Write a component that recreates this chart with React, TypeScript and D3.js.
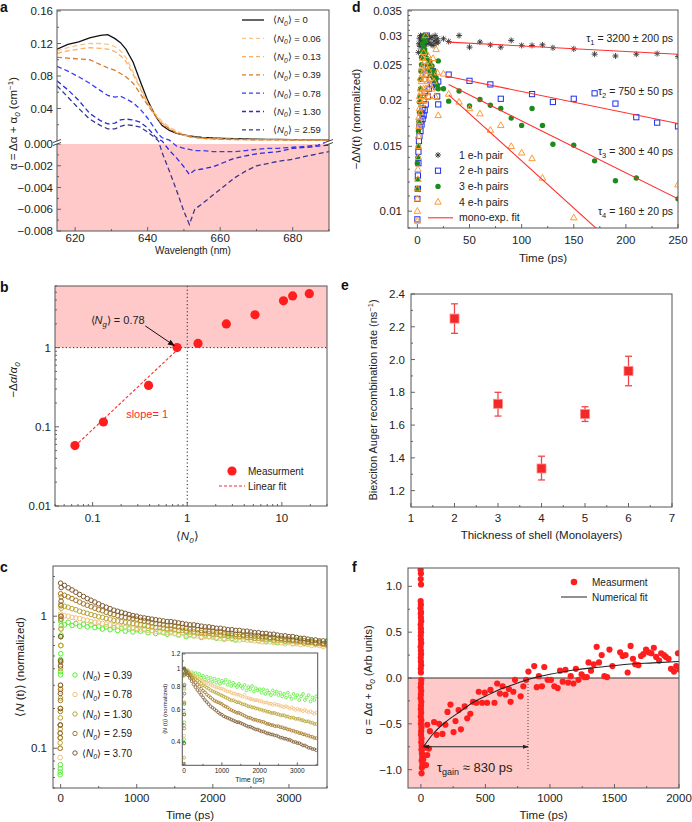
import React from "react";
import * as d3 from "d3";

const FONT = "'Liberation Sans', Arial, Helvetica, sans-serif";
const AX = "#555";
const PINK = "#ffc9c9";
const RED = "#ff1e1e";

// ---------------- Panel a ----------------
const A_WL = [615, 618, 621, 624, 627, 629, 631, 632.5, 634, 636, 638, 640, 642, 643, 644, 646, 648, 650, 651.5, 653, 655, 658, 661, 664, 667, 670, 673, 676, 680, 684, 687, 690];
const A_N0 = ["0", "0.06", "0.13", "0.39", "0.78", "1.30", "2.59"];
const A_V0 = [0.113, 0.119, 0.122, 0.127, 0.13, 0.131, 0.126, 0.121, 0.113, 0.097, 0.073, 0.05, 0.032, 0.025, 0.019, 0.013, 0.0095, 0.0075, 0.0063, 0.0055, 0.0045, 0.0037, 0.0032, 0.0028, 0.0025, 0.0023, 0.0021, 0.0019, 0.0017, 0.0015, 0.0013, 0.0012];
const A_V006 = [0.111, 0.115, 0.118, 0.12, 0.12, 0.119, 0.116, 0.111, 0.103, 0.085, 0.066, 0.047, 0.034, 0.029, 0.024, 0.017, 0.012, 0.008, 0.006, 0.0048, 0.0038, 0.003, 0.0025, 0.0022, 0.002, 0.0018, 0.0016, 0.0015, 0.0013, 0.0012, 0.0011, 0.001];
const A_V013 = [0.108, 0.111, 0.113, 0.115, 0.114, 0.113, 0.11, 0.105, 0.098, 0.082, 0.064, 0.046, 0.032, 0.027, 0.022, 0.015, 0.01, 0.007, 0.005, 0.004, 0.003, 0.0025, 0.002, 0.0018, 0.0016, 0.0015, 0.0014, 0.0013, 0.0012, 0.0011, 0.001, 0.001];
const A_V039 = [0.103, 0.102, 0.101, 0.1, 0.094, 0.09, 0.087, 0.083, 0.079, 0.071, 0.058, 0.044, 0.032, 0.025, 0.021, 0.015, 0.01, 0.007, 0.0055, 0.0045, 0.0035, 0.0025, 0.002, 0.0018, 0.0016, 0.0015, 0.0014, 0.0013, 0.0012, 0.0011, 0.001, 0.001];
const A_V078 = [0.092, 0.086, 0.079, 0.071, 0.062, 0.056, 0.054, 0.055, 0.052, 0.047, 0.039, 0.028, 0.015, 0.008, 0.004, 0.001, -0.0002, -0.0004, -0.0005, -0.0006, -0.0006, -0.0007, -0.0007, -0.0007, -0.0006, -0.0005, -0.0004, -0.0004, -0.0003, -0.0002, -0.0001, 0.0];
const A_V130 = [0.074, 0.063, 0.05, 0.034, 0.025, 0.021, 0.022, 0.026, 0.027, 0.026, 0.023, 0.016, 0.006, 0.002, 0.0, -0.0006, -0.0013, -0.0021, -0.0028, -0.0024, -0.0023, -0.0021, -0.0017, -0.0013, -0.0011, -0.0009, -0.0008, -0.0007, -0.0004, -0.0003, -0.0002, -0.0001];
const A_V259 = [0.068, 0.054, 0.04, 0.027, 0.019, 0.015, 0.015, 0.018, 0.02, 0.019, 0.017, 0.011, 0.004, 0.0, -0.0008, -0.0025, -0.0043, -0.0062, -0.0074, -0.006, -0.0055, -0.0047, -0.0039, -0.0031, -0.0025, -0.002, -0.0018, -0.0016, -0.0014, -0.0011, -0.0009, -0.0007];
const A_COLORS = ["#111111", "#fcc48a", "#f7b063", "#d77a2c", "#3a3af5", "#2b2bd6", "#37378f"];

// ---------------- Panel b ----------------
const B_N = [0.065, 0.13, 0.39, 0.78, 1.3, 2.59, 5.2, 10.4, 13, 19.5];
const B_R = [0.058, 0.115, 0.333, 1.0, 1.13, 1.99, 2.6, 3.9, 4.5, 4.8];
const B_FIT_N = [0.065, 0.77];
const B_FIT_R = [0.057, 0.92];

// ---------------- Panel c ----------------
const C_LABELS = ["0.39", "0.78", "1.30", "2.59", "3.70"];
const C_COLORS = ["#55ee2e", "#f3c27f", "#b9a533", "#a67a26", "#7d5c33"];
const C_PEAK = [0.92, 1.04, 1.22, 1.48, 1.78];
const C_V039 = [0.92, 0.86, 0.9, 0.85, 0.88, 0.84, 0.87, 0.83, 0.86, 0.82, 0.84, 0.8, 0.83, 0.79, 0.82, 0.78, 0.81, 0.77, 0.8, 0.76, 0.79, 0.77, 0.8, 0.75, 0.78, 0.74, 0.77, 0.75, 0.73, 0.76, 0.74, 0.72, 0.75, 0.7, 0.73, 0.71, 0.74, 0.69, 0.72, 0.7, 0.71, 0.68, 0.71, 0.67, 0.7, 0.68, 0.66, 0.7, 0.67, 0.69, 0.66, 0.68, 0.65, 0.67, 0.64, 0.68, 0.65, 0.63, 0.67, 0.64, 0.66, 0.62, 0.65, 0.67, 0.62, 0.64, 0.66, 0.61, 0.64, 0.62, 0.65];
const C_V078 = [1.04, 1.01, 1.0, 0.98, 0.97, 0.96, 0.94, 0.93, 0.91, 0.9, 0.89, 0.88, 0.87, 0.86, 0.85, 0.84, 0.83, 0.82, 0.82, 0.81, 0.81, 0.8, 0.79, 0.78, 0.78, 0.77, 0.76, 0.76, 0.75, 0.75, 0.74, 0.73, 0.75, 0.72, 0.72, 0.71, 0.71, 0.7, 0.7, 0.7, 0.69, 0.69, 0.68, 0.68, 0.68, 0.67, 0.67, 0.66, 0.67, 0.66, 0.66, 0.65, 0.65, 0.64, 0.65, 0.64, 0.63, 0.64, 0.63, 0.62, 0.63, 0.62, 0.62, 0.61, 0.62, 0.61, 0.6, 0.61, 0.6, 0.59, 0.6];
const C_V130 = [1.22, 1.19, 1.17, 1.14, 1.12, 1.09, 1.07, 1.05, 1.03, 1.01, 0.99, 0.98, 0.96, 0.95, 0.93, 0.92, 0.91, 0.9, 0.89, 0.88, 0.87, 0.86, 0.85, 0.84, 0.83, 0.82, 0.82, 0.81, 0.8, 0.8, 0.79, 0.78, 0.78, 0.77, 0.76, 0.76, 0.75, 0.75, 0.74, 0.74, 0.73, 0.73, 0.72, 0.72, 0.71, 0.71, 0.7, 0.7, 0.7, 0.69, 0.69, 0.68, 0.68, 0.68, 0.67, 0.67, 0.66, 0.66, 0.66, 0.65, 0.65, 0.65, 0.64, 0.64, 0.63, 0.63, 0.63, 0.62, 0.62, 0.61, 0.61];
const C_V259 = [1.48, 1.44, 1.4, 1.36, 1.32, 1.28, 1.24, 1.21, 1.18, 1.15, 1.12, 1.1, 1.07, 1.05, 1.03, 1.01, 0.99, 0.98, 0.97, 0.96, 0.95, 0.93, 0.92, 0.91, 0.89, 0.88, 0.87, 0.86, 0.85, 0.85, 0.84, 0.83, 0.82, 0.81, 0.8, 0.8, 0.79, 0.78, 0.78, 0.77, 0.77, 0.76, 0.76, 0.75, 0.74, 0.74, 0.73, 0.73, 0.72, 0.72, 0.72, 0.71, 0.71, 0.7, 0.7, 0.69, 0.69, 0.68, 0.68, 0.67, 0.67, 0.66, 0.66, 0.65, 0.65, 0.64, 0.64, 0.63, 0.63, 0.62, 0.62];
const C_V370 = [1.78, 1.71, 1.64, 1.58, 1.52, 1.46, 1.41, 1.36, 1.32, 1.28, 1.24, 1.2, 1.17, 1.14, 1.11, 1.09, 1.07, 1.05, 1.03, 1.01, 1.0, 0.98, 0.97, 0.96, 0.95, 0.94, 0.93, 0.92, 0.91, 0.91, 0.9, 0.89, 0.88, 0.87, 0.86, 0.86, 0.85, 0.84, 0.83, 0.83, 0.82, 0.81, 0.81, 0.8, 0.79, 0.79, 0.78, 0.78, 0.77, 0.77, 0.76, 0.75, 0.75, 0.74, 0.74, 0.73, 0.73, 0.72, 0.71, 0.71, 0.7, 0.7, 0.69, 0.68, 0.68, 0.67, 0.66, 0.66, 0.65, 0.65, 0.64];
const C_T = d3.range(0, 3501, 50);
const C_RISE_T = [-6, -5, -4, -3, -2, -1, 0, 2, 4, 6, 8];
const C_RISE_039 = [0.063, 0.066, 0.07, 0.075, 0.36, 0.38, 0.47, 0.52, 0.6, 0.72, 0.85];
const C_RISE_078 = [0.085, 0.1, 0.13, 0.2, 0.27, 0.28, 0.3, 0.45, 0.6, 0.8, 0.95];
const C_RISE_130 = [0.11, 0.12, 0.14, 0.17, 0.2, 0.24, 0.4, 0.6, 0.8, 1.0, 1.15];
const C_RISE_259 = [0.1, 0.12, 0.15, 0.19, 0.23, 0.28, 0.45, 0.7, 0.95, 1.2, 1.4];
const C_RISE_370 = [0.13, 0.15, 0.2, 0.26, 0.3, 0.42, 0.46, 0.7, 1.0, 1.3, 1.65];

// ---------------- Panel d ----------------
const D_LABELS = ["1 e-h pair", "2 e-h pairs", "3 e-h pairs", "4 e-h pairs"];
const D_BLACK_T = [1, 1.5, 2, 2.5, 3, 3.5, 4, 4.5, 5, 5.5, 6, 6.5, 7, 7.5, 8, 8.5, 9, 9.5, 10, 11, 12, 13, 14, 15, 16, 17, 18, 19, 20, 25, 30, 40, 50, 60, 70, 80, 90, 100, 110, 120, 130, 150, 170, 190, 210, 230, 250];
const D_BLACK_V = [0.027, 0.0285, 0.0295, 0.028, 0.03, 0.029, 0.0285, 0.0298, 0.0292, 0.028, 0.03, 0.0288, 0.0295, 0.0283, 0.0298, 0.029, 0.0286, 0.0299, 0.0293, 0.0287, 0.0296, 0.0284, 0.0297, 0.0282, 0.029, 0.03, 0.0286, 0.0294, 0.0288, 0.0294, 0.0289, 0.03, 0.0279, 0.0288, 0.0283, 0.0279, 0.0291, 0.0282, 0.0282, 0.0283, 0.0278, 0.0276, 0.0267, 0.0264, 0.0267, 0.0268, 0.0263];
const D_BLUE_T = [0, 0, 0, 0.5, 0.5, 1, 1, 1.5, 2, 2, 3, 3, 4, 4, 5, 5, 6, 6, 7, 7, 8, 8, 9, 10, 10, 11, 12, 13, 14, 15, 16, 17, 18, 19, 20, 20, 30, 50, 70, 80, 110, 130, 150, 170, 190, 210, 230, 250];
const D_BLUE_V = [0.0088, 0.0095, 0.0108, 0.0115, 0.0125, 0.0135, 0.0145, 0.0155, 0.016, 0.017, 0.0165, 0.0175, 0.0172, 0.0185, 0.0178, 0.019, 0.0182, 0.02, 0.0188, 0.021, 0.0195, 0.0235, 0.03, 0.0205, 0.0245, 0.0215, 0.0228, 0.0235, 0.022, 0.024, 0.0232, 0.0225, 0.0218, 0.0205, 0.0195, 0.0225, 0.0235, 0.0226, 0.0221, 0.0202, 0.0208, 0.0198, 0.0202, 0.0209, 0.0196, 0.018, 0.0174, 0.017];
const D_GREEN_T = [0, 0, 0, 0.5, 1, 1, 1.5, 2, 2, 2.5, 3, 3, 3.5, 4, 4, 5, 5, 6, 6, 7, 7, 8, 8, 9, 10, 11, 12, 13, 14, 15, 16, 17, 18, 19, 20, 20, 25, 30, 40, 50, 60, 70, 80, 90, 100, 110, 120, 130, 150, 170, 190, 210, 250];
const D_GREEN_V = [0.0115, 0.0122, 0.0135, 0.014, 0.015, 0.0165, 0.0175, 0.0185, 0.0198, 0.0205, 0.0215, 0.0228, 0.024, 0.025, 0.0262, 0.0272, 0.0285, 0.028, 0.0295, 0.0275, 0.03, 0.0268, 0.029, 0.026, 0.025, 0.0242, 0.0255, 0.0236, 0.0248, 0.0232, 0.024, 0.0225, 0.023, 0.022, 0.0215, 0.0256, 0.0215, 0.0199, 0.0212, 0.0193, 0.0201, 0.0194, 0.019, 0.0179, 0.0171, 0.019, 0.0171, 0.0152, 0.0151, 0.0137, 0.0121, 0.0123, 0.0108];
const D_ORANGE_T = [0, 0, 0, 0, 0, 0.5, 0.5, 1, 1, 1, 1.5, 1.5, 2, 2, 2, 2.5, 3, 3, 3, 3.5, 4, 4, 4, 5, 5, 5, 6, 6, 6, 7, 7, 7, 8, 8, 8, 9, 9, 10, 10, 11, 11, 12, 12, 13, 14, 15, 16, 17, 18, 19, 20, 25, 30, 40, 50, 60, 70, 80, 90, 100, 110, 120, 150, 250];
const D_ORANGE_V = [0.0088, 0.0094, 0.01, 0.0108, 0.0115, 0.0122, 0.013, 0.014, 0.015, 0.016, 0.017, 0.018, 0.0175, 0.019, 0.0205, 0.02, 0.0185, 0.0215, 0.023, 0.021, 0.0195, 0.0225, 0.0245, 0.0205, 0.0235, 0.026, 0.0215, 0.024, 0.027, 0.02, 0.0228, 0.0255, 0.0215, 0.0248, 0.03, 0.021, 0.0235, 0.0225, 0.0265, 0.0205, 0.024, 0.022, 0.025, 0.023, 0.0215, 0.026, 0.0225, 0.0205, 0.0275, 0.0238, 0.0182, 0.0236, 0.0208, 0.0198, 0.019, 0.0184, 0.0166, 0.0171, 0.015, 0.0144, 0.0139, 0.0123, 0.0096, 0.0118];
const D_FIT_T0 = [30, 27, 30, 30];
const D_FIT_V0 = [0.0288, 0.0233, 0.0221, 0.0207];
const D_FIT_T1 = [250, 250, 250, 175];
const D_FIT_V1 = [0.0267, 0.0173, 0.0108, 0.0088];
const D_TAU = ["3200 ± 200", "750 ± 50", "300 ± 40", "160 ± 20"];

// ---------------- Panel e ----------------
const E_X = [2, 3, 4, 5, 6];
const E_Y = [2.25, 1.73, 1.335, 1.667, 1.93];
const E_LO = [2.16, 1.655, 1.265, 1.622, 1.84];
const E_HI = [2.34, 1.8, 1.41, 1.712, 2.02];

// ---------------- Panel f ----------------
const F_SPIKE_T = [-2, 0, -1, 1, -2, 0, -3, 1, -1, 0, 2, -2, 0, 1, -1, 0, 2, -2, 0, 1, -1, 0, 2, -1, 0, 3, 1, -1, 2, 0, -2, 3, 1, 0, 2, -1, 3, 0, 4, 2, 1, 5, 3, 6, 4, 8, 10, 6, 12, 8, 5];
const F_SPIKE_V = [1.18, 1.14, 1.08, 1.02, 0.84, 0.8, 0.76, 0.72, 0.7, 0.66, 0.62, 0.58, 0.54, 0.5, 0.46, 0.42, 0.38, 0.34, 0.3, 0.26, 0.22, 0.18, 0.14, 0.1, 0.06, -0.02, -0.06, -0.1, -0.14, -0.18, -0.22, -0.26, -0.3, -0.34, -0.38, -0.42, -0.46, -0.5, -0.54, -0.58, -0.62, -0.66, -0.7, -0.74, -0.78, -0.82, -0.86, -0.9, -0.94, -0.98, -1.04];
const F_T = [18, 31, 40, 49, 62, 49, 70, 102, 122, 141, 167, 190, 206, 229, 253, 268, 292, 310, 339, 359, 383, 404, 430, 448, 474, 495, 513, 539, 570, 591, 612, 633, 656, 682, 695, 716, 729, 773, 794, 815, 833, 878, 898, 914, 938, 956, 982, 1008, 1034, 1060, 1078, 1099, 1120, 1141, 1161, 1182, 1201, 1221, 1245, 1266, 1286, 1299, 1318, 1339, 1362, 1380, 1401, 1422, 1443, 1461, 1484, 1544, 1563, 1586, 1602, 1625, 1643, 1661, 1685, 1706, 1724, 1745, 1766, 1786, 1805, 1823, 1846, 1862, 1883, 1898, 1919, 1938, 1961, 1979, 1992, 2005];
const F_V = [-0.89, -0.76, -0.95, -0.84, -0.77, -0.51, -0.58, -0.48, -0.62, -0.5, -0.61, -0.51, -0.37, -0.29, -0.59, -0.47, -0.35, -0.56, -0.31, -0.44, -0.39, -0.26, -0.27, -0.15, -0.27, -0.16, -0.27, -0.13, -0.27, -0.06, -0.17, -0.09, -0.18, -0.12, -0.26, -0.15, -0.02, -0.2, -0.09, -0.02, 0.07, 0.13, -0.1, 0.02, -0.09, 0.12, -0.02, -0.02, -0.09, -0.11, 0.08, -0.04, 0.09, -0.05, 0.02, -0.06, 0.1, -0.02, 0.04, 0.01, 0.01, 0.17, 0.08, 0.15, 0.34, 0.17, 0.25, 0.02, 0.01, 0.31, 0.13, 0.28, 0.24, 0.25, 0.06, 0.35, 0.21, 0.15, 0.14, 0.24, 0.26, 0.31, 0.28, 0.27, 0.33, 0.23, 0.19, 0.27, 0.25, 0.23, 0.21, 0.1, 0.07, 0.13, 0.27, 0.09];
const F_FIT_T = [20, 100, 200, 300, 400, 500, 600, 700, 800, 900, 1000, 1200, 1400, 1600, 1800, 2000];
const F_FIT_V = [-0.75, -0.6, -0.47, -0.37, -0.27, -0.2, -0.13, -0.08, -0.03, 0.01, 0.04, 0.09, 0.12, 0.15, 0.165, 0.18];
const F_TAU = 830;

// ---------------- helpers ----------------
type S = (v: number) => number;
const minus = (s: string) => s.replace("-", "\u2212");

function YAxis({ y, x, major, minor = [], fmt, fs = 11.5, len = 4, gap = 4 }: { y: S; x: number; major: number[]; minor?: number[]; fmt: (v: number) => string; fs?: number; len?: number; gap?: number }) {
  return (
    <g>
      {major.map((v, i) => <line key={"M" + i} x1={x} x2={x + len} y1={y(v)} y2={y(v)} stroke={AX} strokeWidth={0.9} />)}
      {minor.map((v, i) => <line key={"m" + i} x1={x} x2={x + len / 2} y1={y(v)} y2={y(v)} stroke={AX} strokeWidth={0.9} />)}
      {major.map((v, i) => (
        <text key={"t" + i} x={x - gap} y={y(v)} dy="0.35em" textAnchor="end" fontSize={fs} fill="#222">{fmt(v)}</text>
      ))}
    </g>
  );
}

function XAxis({ x, y, major, minor = [], fmt, fs = 11.5, len = 4, base }: { x: S; y: number; major: number[]; minor?: number[]; fmt: (v: number) => string; fs?: number; len?: number; base: number }) {
  return (
    <g>
      {major.map((v, i) => <line key={"M" + i} x1={x(v)} x2={x(v)} y1={y} y2={y - len} stroke={AX} strokeWidth={0.9} />)}
      {minor.map((v, i) => <line key={"m" + i} x1={x(v)} x2={x(v)} y1={y} y2={y - len / 2} stroke={AX} strokeWidth={0.9} />)}
      {major.map((v, i) => (
        <text key={"t" + i} x={x(v)} y={base} textAnchor="middle" fontSize={fs} fill="#222">{fmt(v)}</text>
      ))}
    </g>
  );
}

function Frame({ x0, x1, y0, y1 }: { x0: number; x1: number; y0: number; y1: number }) {
  return <rect x={x0} y={y0} width={x1 - x0} height={y1 - y0} fill="none" stroke={AX} strokeWidth={1} />;
}

function NLab({ sub = "0", fs, pre = "" }: { sub?: string; fs: number; pre?: string }) {
  const d = fs * 0.28;
  return (
    <>
      <tspan>{pre}⟨</tspan>
      <tspan fontStyle="italic">N</tspan>
      <tspan fontStyle="italic" fontSize={fs * 0.7} dy={d}>{sub}</tspan>
      <tspan dy={-d}>⟩</tspan>
    </>
  );
}

function PanelLabel({ x, y, t }: { x: number; y: number; t: string }) {
  return <text x={x} y={y} fontSize={14} fontWeight="bold" fill="#111">{t}</text>;
}

function logMinor(lo: number, hi: number) {
  const out: number[] = [];
  for (let e = -4; e <= 3; e++) {
    for (let m = 2; m <= 9; m++) {
      const v = m * Math.pow(10, e);
      if (v >= lo * 0.999 && v <= hi * 1.001) out.push(v);
    }
  }
  return out;
}

// ---------------- Panel A ----------------
function PanelA() {
  const X0 = 57, X1 = 329, T = 10, B = 231;
  const x = d3.scaleLinear().domain([615, 690]).range([X0, X1]);
  const yU = d3.scaleLinear().domain([0, 0.16]).range([141, 11]);
  const yL = d3.scaleLinear().domain([-0.008, 0]).range([B, 144]);
  const y = (v: number) => (v >= 0 ? yU(v) : yL(v));
  const series = [A_V0, A_V006, A_V013, A_V039, A_V078, A_V130, A_V259];
  const line = d3.line<number>().x((_, i) => x(A_WL[i])).y((v) => y(v));
  return (
    <g>
      <defs>
        <clipPath id="clipA"><rect x={X0} y={T} width={X1 - X0} height={B - T} /></clipPath>
      </defs>
      <rect x={X0} y={144} width={X1 - X0} height={B - 144} fill={PINK} />
      <g clipPath="url(#clipA)">
        {series.map((s, i) => (
          <path key={i} d={line(s)!} fill="none" stroke={A_COLORS[i]} strokeWidth={1.3} strokeDasharray={i === 0 ? undefined : "5,3"} />
        ))}
      </g>
      <Frame x0={X0} x1={X1} y0={T} y1={B} />
      <YAxis y={yU} x={X0} major={[0.04, 0.08, 0.12, 0.16]} minor={[0.02, 0.06, 0.1, 0.14]} fmt={(v) => v.toFixed(2)} />
      <YAxis y={yL} x={X0} major={[0, -0.002, -0.004, -0.006, -0.008]} minor={[-0.001, -0.003, -0.005, -0.007]} fmt={(v) => minus(v.toFixed(3))} />
      <XAxis x={x} y={B} major={[620, 640, 660, 680]} minor={[630, 650, 670, 690]} fmt={(v) => String(v)} base={242} />
      {/* axis break marks */}
      <rect x={X0 - 4} y={141.2} width={8} height={2.6} fill="#fff" />
      <rect x={X1 - 4} y={141.2} width={8} height={2.6} fill="#fff" />
      {[X0, X1].map((bx, i) => (
        <g key={i} stroke="#333" strokeWidth={0.9}>
          <line x1={bx - 4} y1={142.5} x2={bx + 4} y2={139.5} />
          <line x1={bx - 4} y1={145.5} x2={bx + 4} y2={142.5} />
        </g>
      ))}
      <text x={(X0 + X1) / 2} y={254} textAnchor="middle" fontSize={10} fill="#222">Wavelength (nm)</text>
      <text transform={`translate(17,${(T + B) / 2 + 3}) rotate(-90)`} textAnchor="middle" fontSize={11.5} fill="#222">
        <tspan>α = Δα + α</tspan>
        <tspan fontSize={8} dy={3} fontStyle="italic">0</tspan>
        <tspan dy={-3}> (cm</tspan>
        <tspan fontSize={8} dy={-4}>−1</tspan>
        <tspan dy={4}>)</tspan>
      </text>
      {A_N0.map((lab, i) => {
        const ly = 20 + i * 18.3;
        return (
          <g key={i}>
            <line x1={242} x2={264} y1={ly} y2={ly} stroke={A_COLORS[i]} strokeWidth={1.3} strokeDasharray={i === 0 ? undefined : "4,3"} />
            <text x={273} y={ly} dy="0.35em" fontSize={9.5} fill="#222"><NLab fs={9.5} /><tspan> = {lab}</tspan></text>
          </g>
        );
      })}
      <PanelLabel x={0} y={12} t="a" />
    </g>
  );
}

// ---------------- Panel D ----------------
function asterisk(cx: number, cy: number, s: number) {
  const d = s * 0.72;
  return `M${cx - s},${cy}L${cx + s},${cy}M${cx},${cy - s}L${cx},${cy + s}M${cx - d},${cy - d}L${cx + d},${cy + d}M${cx - d},${cy + d}L${cx + d},${cy - d}`;
}
function tri(cx: number, cy: number, s: number) {
  return `M${cx},${cy - s}L${cx + s * 0.9},${cy + s * 0.6}L${cx - s * 0.9},${cy + s * 0.6}Z`;
}
const D_COL = ["#333", "#2030e8", "#1d8a1d", "#ff9a35"];

function DMarker({ k, cx, cy }: { k: number; cx: number; cy: number }) {
  if (k === 0) return <path d={asterisk(cx, cy, 3)} stroke={D_COL[0]} strokeWidth={0.9} fill="none" />;
  if (k === 1) return <rect x={cx - 2.6} y={cy - 2.6} width={5.2} height={5.2} fill="none" stroke={D_COL[1]} strokeWidth={1} />;
  if (k === 2) return <circle cx={cx} cy={cy} r={2.7} fill={D_COL[2]} />;
  return <path d={tri(cx, cy, 3.6)} fill="none" stroke={D_COL[3]} strokeWidth={1} />;
}

function PanelD() {
  const X0 = 408, X1 = 678, T = 10, B = 228;
  const x = d3.scaleLinear().domain([-9, 250]).range([X0, X1]);
  const y = d3.scaleLog().domain([0.009, 0.0352]).range([B, T]);
  const sets: [number[], number[]][] = [[D_BLACK_T, D_BLACK_V], [D_BLUE_T, D_BLUE_V], [D_GREEN_T, D_GREEN_V], [D_ORANGE_T, D_ORANGE_V]];
  const majors = [0.01, 0.015, 0.02, 0.025, 0.03, 0.035];
  const minors = d3.range(9, 36).map((v) => v / 1000).filter((v) => !majors.some((m) => Math.abs(m - v) < 1e-9));
  const tauY = [42, 95, 155, 215];
  const legY = [155, 170.7, 186.4, 202, 217.8];
  return (
    <g>
      <defs>
        <clipPath id="clipD"><rect x={X0} y={T} width={X1 - X0} height={B - T} /></clipPath>
      </defs>
      <g clipPath="url(#clipD)">
        {sets.map(([ts, vs], k) => ts.map((t, i) => <DMarker key={k + "-" + i} k={k} cx={x(t)} cy={y(vs[i])} />))}
        {D_FIT_T0.map((t0, i) => (
          <line key={"f" + i} x1={x(t0)} y1={y(D_FIT_V0[i])} x2={x(D_FIT_T1[i])} y2={y(D_FIT_V1[i])} stroke="#ff3030" strokeWidth={1.1} />
        ))}
      </g>
      <Frame x0={X0} x1={X1} y0={T} y1={B} />
      <YAxis y={y} x={X0} major={majors} minor={minors} fmt={(v) => String(+v.toFixed(3))} gap={6} />
      <XAxis x={x} y={B} major={[0, 50, 100, 150, 200, 250]} minor={[25, 75, 125, 175, 225]} fmt={(v) => String(v)} base={244} />
      <text x={(X0 + X1) / 2} y={262} textAnchor="middle" fontSize={11.5} fill="#222">Time (ps)</text>
      <text transform={`translate(360,${(T + B) / 2}) rotate(-90)`} textAnchor="middle" fontSize={11.5} fill="#222">
        <tspan>−Δ</tspan><tspan fontStyle="italic">N</tspan><tspan>(t) (normalized)</tspan>
      </text>
      {D_TAU.map((s, i) => (
        <text key={i} x={673} y={tauY[i]} textAnchor="end" fontSize={10.5} fill="#222">
          <tspan>τ</tspan><tspan fontSize={7.5} dy={2.5}>{i + 1}</tspan><tspan dy={-2.5}> = {s} ps</tspan>
        </text>
      ))}
      {D_LABELS.map((lab, k) => (
        <g key={k}>
          <DMarker k={k} cx={438} cy={legY[k]} />
          <text x={459} y={legY[k]} dy="0.35em" fontSize={10.5} fill="#222">{lab}</text>
        </g>
      ))}
      <line x1={428} x2={453} y1={legY[4]} y2={legY[4]} stroke="#ff3030" strokeWidth={1.1} />
      <text x={459} y={legY[4]} dy="0.35em" fontSize={10.5} fill="#222">mono-exp. fit</text>
      <PanelLabel x={352} y={12} t="d" />
    </g>
  );
}

// ---------------- Panel B ----------------
function PanelB() {
  const X0 = 55, X1 = 327, T = 286, B = 506;
  const x = d3.scaleLog().domain([0.04, 30]).range([X0, X1]);
  const y = d3.scaleLog().domain([0.01, 6]).range([B, T]);
  return (
    <g>
      <rect x={X0} y={T} width={X1 - X0} height={y(1) - T} fill={PINK} />
      <line x1={X0} x2={X1} y1={y(1)} y2={y(1)} stroke="#222" strokeWidth={1} strokeDasharray="1.2,2.4" />
      <line x1={x(1)} x2={x(1)} y1={T} y2={B} stroke="#222" strokeWidth={1} strokeDasharray="1.2,2.4" />
      <line x1={x(B_FIT_N[0])} y1={y(B_FIT_R[0])} x2={x(B_FIT_N[1])} y2={y(B_FIT_R[1])} stroke="#ff2a2a" strokeWidth={1.1} strokeDasharray="3,2" />
      {B_N.map((n, i) => <circle key={i} cx={x(n)} cy={y(B_R[i])} r={4.6} fill={RED} />)}
      <Frame x0={X0} x1={X1} y0={T} y1={B} />
      <YAxis y={y} x={X0} major={[0.01, 0.1, 1]} minor={logMinor(0.01, 6)} fmt={(v) => String(v)} />
      <XAxis x={x} y={B} major={[0.1, 1, 10]} minor={logMinor(0.04, 30)} fmt={(v) => String(v)} base={522} />
      <text x={x(1)} y={540} textAnchor="middle" fontSize={11.5} fill="#222"><NLab fs={11.5} /></text>
      <text transform={`translate(17,${380}) rotate(-90)`} textAnchor="middle" fontSize={11.5} fill="#222">
        <tspan>−Δ</tspan><tspan fontStyle="italic">α</tspan><tspan>/</tspan><tspan fontStyle="italic">α</tspan><tspan fontSize={8} dy={3} fontStyle="italic">0</tspan>
      </text>
      <text x={x(0.095)} y={y(2.0)} fontSize={11} fill="#222"><NLab fs={11} sub="g" /><tspan> = 0.78</tspan></text>
      <defs>
        <marker id="arrB" viewBox="0 0 10 10" refX="9" refY="5" markerWidth="7" markerHeight="7" orient="auto">
          <path d="M0,1L10,5L0,9Z" fill="#111" />
        </marker>
      </defs>
      <line x1={x(0.36)} y1={y(1.88)} x2={x(0.73)} y2={y(1.06)} stroke="#111" strokeWidth={1} markerEnd="url(#arrB)" />
      <text x={x(0.226)} y={y(0.128)} fontSize={11} fill="#ff2a2a">slope= 1</text>
      <circle cx={232} cy={471} r={4.6} fill={RED} />
      <text x={248} y={471} dy="0.35em" fontSize={10} fill="#222">Measurment</text>
      <line x1={219} x2={245} y1={486} y2={486} stroke="#ff2a2a" strokeWidth={1.1} strokeDasharray="3,2" />
      <text x={248} y={486} dy="0.35em" fontSize={10} fill="#222">Linear fit</text>
      <PanelLabel x={0} y={292} t="b" />
    </g>
  );
}

// ---------------- Panel E ----------------
function PanelE() {
  const X0 = 411, X1 = 672, T = 294, B = 507;
  const x = d3.scaleLinear().domain([1, 7]).range([X0, X1]);
  const y = d3.scaleLinear().domain([1.1, 2.4]).range([B, T]);
  return (
    <g>
      <Frame x0={X0} x1={X1} y0={T} y1={B} />
      <YAxis y={y} x={X0} major={[1.2, 1.4, 1.6, 1.8, 2.0, 2.2, 2.4]} minor={[1.3, 1.5, 1.7, 1.9, 2.1, 2.3]} fmt={(v) => v.toFixed(1)} gap={6} />
      <XAxis x={x} y={B} major={[1, 2, 3, 4, 5, 6, 7]} minor={[1.5, 2.5, 3.5, 4.5, 5.5, 6.5]} fmt={(v) => String(v)} base={522} />
      {E_X.map((xv, i) => (
        <g key={i} stroke="#f04848" strokeWidth={1.3}>
          <line x1={x(xv)} x2={x(xv)} y1={y(E_LO[i])} y2={y(E_HI[i])} />
          <line x1={x(xv) - 3.5} x2={x(xv) + 3.5} y1={y(E_LO[i])} y2={y(E_LO[i])} />
          <line x1={x(xv) - 3.5} x2={x(xv) + 3.5} y1={y(E_HI[i])} y2={y(E_HI[i])} />
        </g>
      ))}
      {E_X.map((xv, i) => (
        <rect key={"s" + i} x={x(xv) - 4.5} y={y(E_Y[i]) - 4.5} width={9} height={9} fill="#f42828" stroke="#ff8a8a" strokeWidth={0.8} />
      ))}
      <text x={(X0 + X1) / 2} y={539} textAnchor="middle" fontSize={11.5} fill="#222">Thickness of shell (Monolayers)</text>
      <text transform={`translate(377,${400}) rotate(-90)`} textAnchor="middle" fontSize={11} fill="#222">
        <tspan>Biexciton Auger recombination rate (ns</tspan>
        <tspan fontSize={7.5} dy={-4}>−1</tspan>
        <tspan dy={4}>)</tspan>
      </text>
      <PanelLabel x={341} y={290} t="e" />
    </g>
  );
}

// ---------------- Panel C ----------------
function PanelC() {
  const X0 = 53, X1 = 327, T = 566, B = 788;
  const x = d3.scaleLinear().domain([-100, 3500]).range([X0, X1]);
  const y = d3.scaleLog().domain([0.05, 2.4]).range([B, T]);
  const series = [C_V039, C_V078, C_V130, C_V259, C_V370];
  const rises = [C_RISE_039, C_RISE_078, C_RISE_130, C_RISE_259, C_RISE_370];
  const IX0 = 182.3, IX1 = 317.7, IT = 653, IB = 765.3;
  const ix = d3.scaleLinear().domain([-50, 3540]).range([IX0, IX1]);
  const iy = d3.scaleLog().domain([0.298, 1.215]).range([IB, IT]);
  const legY = [675, 694.5, 714, 733.5, 753];
  return (
    <g>
      <defs>
        <clipPath id="clipC"><rect x={X0} y={T} width={X1 - X0} height={B - T} /></clipPath>
        <clipPath id="clipCi"><rect x={IX0} y={IT} width={IX1 - IX0} height={IB - IT} /></clipPath>
      </defs>
      <g clipPath="url(#clipC)">
        {series.map((s, k) => (
          <g key={k} stroke={C_COLORS[k]} fill="none" strokeWidth={1}>
            {rises[k].map((v, i) => <circle key={"r" + i} cx={x(C_RISE_T[i])} cy={y(v)} r={2.3} />)}
            {s.map((v, i) => <circle key={i} cx={x(C_T[i])} cy={y(v)} r={2.3} />)}
          </g>
        ))}
      </g>
      <Frame x0={X0} x1={X1} y0={T} y1={B} />
      <YAxis y={y} x={X0} major={[0.1, 1]} minor={logMinor(0.05, 2.4)} fmt={(v) => String(v)} gap={6} />
      <XAxis x={x} y={B} major={[0, 1000, 2000, 3000]} minor={[500, 1500, 2500, 3500]} fmt={(v) => String(v)} base={802} />
      <text x={(X0 + X1) / 2} y={819} textAnchor="middle" fontSize={11.5} fill="#222">Time (ps)</text>
      <text transform={`translate(24,${667}) rotate(-90)`} textAnchor="middle" fontSize={11.5} fill="#222">
        <tspan>⟨</tspan><tspan fontStyle="italic">N</tspan><tspan> (t)⟩ (normalized)</tspan>
      </text>
      {C_LABELS.map((lab, k) => (
        <g key={k}>
          <circle cx={75} cy={legY[k]} r={2.2} fill="none" stroke={C_COLORS[k]} strokeWidth={1} />
          <text x={82} y={legY[k]} dy="0.35em" fontSize={10} fill="#222"><NLab fs={10} /><tspan> = {lab}</tspan></text>
        </g>
      ))}
      <rect x={IX0} y={IT} width={IX1 - IX0} height={IB - IT} fill="#fff" />
      <g clipPath="url(#clipCi)">
        {series.map((s, k) => (
          <g key={k} stroke={C_COLORS[k]} fill="none" strokeWidth={0.8}>
            {rises[k].map((v, i) => <circle key={"r" + i} cx={ix(C_RISE_T[i])} cy={iy(v / C_PEAK[k])} r={1.4} />)}
            {s.map((v, i) => <circle key={i} cx={ix(C_T[i])} cy={iy(v / C_PEAK[k])} r={1.4} />)}
          </g>
        ))}
      </g>
      <Frame x0={IX0} x1={IX1} y0={IT} y1={IB} />
      <YAxis y={iy} x={IX0} major={[0.4, 0.6, 0.8, 1, 1.2]} minor={[0.3, 0.5, 0.7, 0.9, 1.1]} fmt={(v) => String(v)} fs={6.5} len={3} gap={2} />
      <XAxis x={ix} y={IB} major={[0, 1000, 2000, 3000]} minor={[500, 1500, 2500, 3500]} fmt={(v) => String(v)} fs={6.5} len={3} base={773} />
      <text x={(IX0 + IX1) / 2} y={782} textAnchor="middle" fontSize={7} fill="#222">Time (ps)</text>
      <text transform={`translate(167,${709}) rotate(-90)`} textAnchor="middle" fontSize={6} fill="#222">
        <tspan>⟨</tspan><tspan fontStyle="italic">N</tspan><tspan> (t)⟩ (normalized)</tspan>
      </text>
      <PanelLabel x={0} y={572} t="c" />
    </g>
  );
}

// ---------------- Panel F ----------------
function PanelF() {
  const X0 = 408, X1 = 679, T = 568, B = 788;
  const x = d3.scaleLinear().domain([-100, 2000]).range([X0, X1]);
  const y = d3.scaleLinear().domain([-1.2, 1.2]).range([B, T]);
  const fit = d3.line<number>().x((_, i) => x(F_FIT_T[i])).y((v) => y(v)).curve(d3.curveMonotoneX);
  return (
    <g>
      <defs>
        <clipPath id="clipF"><rect x={X0} y={T} width={X1 - X0} height={B - T} /></clipPath>
        <marker id="arrF" viewBox="0 0 10 10" refX="9" refY="5" markerWidth="6" markerHeight="6" orient="auto-start-reverse">
          <path d="M0,1.5L10,5L0,8.5Z" fill="#222" />
        </marker>
      </defs>
      <rect x={X0} y={y(0)} width={X1 - X0} height={B - y(0)} fill={PINK} />
      <line x1={X0} x2={X1} y1={y(0)} y2={y(0)} stroke="#333" strokeWidth={1} />
      <g clipPath="url(#clipF)">
        {F_SPIKE_T.map((t, i) => <circle key={"s" + i} cx={x(t)} cy={y(F_SPIKE_V[i])} r={3.1} fill={RED} />)}
        {F_T.map((t, i) => <circle key={i} cx={x(t)} cy={y(F_V[i])} r={3.1} fill={RED} />)}
        <path d={fit(F_FIT_V)!} fill="none" stroke="#222" strokeWidth={1.1} />
      </g>
      <line x1={x(F_TAU)} x2={x(F_TAU)} y1={y(0)} y2={y(-1.0)} stroke="#333" strokeWidth={0.9} strokeDasharray="1,2" />
      <line x1={x(22)} x2={x(F_TAU)} y1={y(-0.75)} y2={y(-0.75)} stroke="#222" strokeWidth={1} markerStart="url(#arrF)" markerEnd="url(#arrF)" />
      <text x={x(124)} y={y(-1.02)} fontSize={13} fill="#222">
        <tspan>τ</tspan><tspan fontSize={9} dy={3}>gain</tspan><tspan dy={-3}> ≈ 830 ps</tspan>
      </text>
      <Frame x0={X0} x1={X1} y0={T} y1={B} />
      <YAxis y={y} x={X0} major={[-1, -0.5, 0, 0.5, 1]} minor={[-0.75, -0.25, 0.25, 0.75]} fmt={(v) => minus(v.toFixed(1))} gap={6} />
      <XAxis x={x} y={B} major={[0, 500, 1000, 1500, 2000]} minor={[250, 750, 1250, 1750]} fmt={(v) => String(v)} base={802} />
      <text x={(X0 + X1) / 2} y={819} textAnchor="middle" fontSize={11.5} fill="#222">Time (ps)</text>
      <text transform={`translate(372,${680}) rotate(-90)`} textAnchor="middle" fontSize={11} fill="#222">
        <tspan>α = Δα + α</tspan>
        <tspan fontSize={8} dy={3} fontStyle="italic">0</tspan>
        <tspan dy={-3}> (Arb units)</tspan>
      </text>
      <circle cx={574} cy={582} r={3.3} fill={RED} />
      <text x={592} y={582} dy="0.35em" fontSize={10} fill="#222">Measurment</text>
      <line x1={561} x2={587} y1={597} y2={597} stroke="#222" strokeWidth={1} />
      <text x={592} y={597} dy="0.35em" fontSize={10} fill="#222">Numerical fit</text>
      <PanelLabel x={352} y={572} t="f" />
    </g>
  );
}

export default function App() {
  return (
    <svg width={692} height={822} viewBox="0 0 692 822" style={{ position: "absolute", left: 0, top: 0, background: "#fff" }} fontFamily={FONT}>
      <rect width={692} height={822} fill="#fff" />
      <PanelA />
      <PanelD />
      <PanelB />
      <PanelE />
      <PanelC />
      <PanelF />
    </svg>
  );
}
